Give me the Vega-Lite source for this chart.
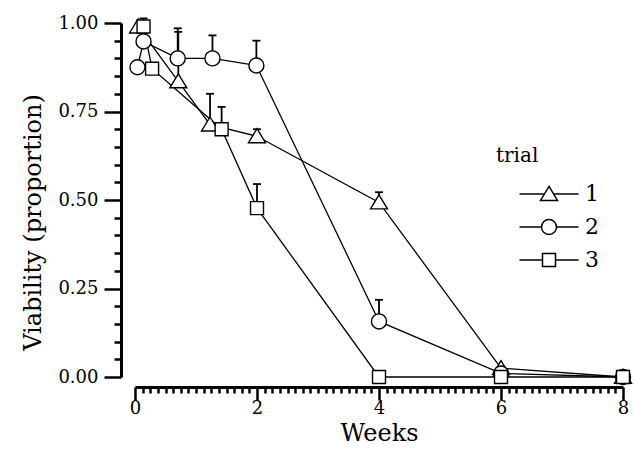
{
  "$schema": "https://vega.github.io/schema/vega-lite/v6.json",
  "width": 488,
  "height": 354,
  "autosize": {"type": "none"},
  "padding": {"left": 135, "top": 23, "right": 11, "bottom": 95},
  "background": "white",
  "config": {"view": {"stroke": null}, "font": "DejaVu Serif"},
  "data": {
    "values": [
      {"trial": "1", "w": 0.05, "v": 0.99},
      {"trial": "1", "w": 0.71, "v": 0.835, "upper": 0.975},
      {"trial": "1", "w": 1.23, "v": 0.713, "upper": 0.8},
      {"trial": "1", "w": 2.0, "v": 0.68, "upper": 0.7},
      {"trial": "1", "w": 4.0, "v": 0.493, "upper": 0.522},
      {"trial": "1", "w": 6.0, "v": 0.025},
      {"trial": "1", "w": 8.0, "v": 0.0},
      {"trial": "2", "w": 0.04, "v": 0.875},
      {"trial": "2", "w": 0.14, "v": 0.948},
      {"trial": "2", "w": 0.7, "v": 0.9, "upper": 0.985},
      {"trial": "2", "w": 1.27, "v": 0.9, "upper": 0.965},
      {"trial": "2", "w": 1.99, "v": 0.88, "upper": 0.95},
      {"trial": "2", "w": 4.0, "v": 0.157, "upper": 0.218},
      {"trial": "2", "w": 6.0, "v": 0.01},
      {"trial": "2", "w": 8.0, "v": 0.0},
      {"trial": "3", "w": 0.14, "v": 0.99, "upper": 1.013},
      {"trial": "3", "w": 0.28, "v": 0.871},
      {"trial": "3", "w": 1.42, "v": 0.7, "upper": 0.763},
      {"trial": "3", "w": 2.0, "v": 0.477, "upper": 0.545},
      {"trial": "3", "w": 4.0, "v": 0.0},
      {"trial": "3", "w": 6.0, "v": 0.0},
      {"trial": "3", "w": 8.0, "v": 0.0}
    ]
  },
  "encoding": {
    "x": {
      "field": "w", "type": "quantitative", "title": "Weeks",
      "scale": {"domain": [0, 8], "nice": false, "zero": false},
      "axis": {
        "values": [0,0.125,0.25,0.375,0.5,0.625,0.75,0.875,1,1.125,1.25,1.375,1.5,1.625,1.75,1.875,2,2.125,2.25,2.375,2.5,2.625,2.75,2.875,3,3.125,3.25,3.375,3.5,3.625,3.75,3.875,4,4.125,4.25,4.375,4.5,4.625,4.75,4.875,5,5.125,5.25,5.375,5.5,5.625,5.75,5.875,6,6.125,6.25,6.375,6.5,6.625,6.75,6.875,7,7.125,7.25,7.375,7.5,7.625,7.75,7.875,8],
        "labelExpr": "datum.value % 2 == 0 ? format(datum.value, 'd') : ''",
        "tickSize": {"condition": {"test": "datum.value % 2 == 0", "value": 13}, "value": 6},
        "offset": 10,
        "grid": false,
        "domainColor": "black", "domainWidth": 3,
        "tickColor": "black", "tickWidth": 2.5,
        "labelColor": "black", "labelFont": "DejaVu Serif", "labelFontSize": 18,
        "labelPadding": -1, "labelFlush": false, "labelOverlap": false, "labelBound": false,
        "titleColor": "black", "titleFont": "DejaVu Serif", "titleFontSize": 24, "titleFontWeight": "normal",
        "titlePadding": 4
      }
    },
    "y": {
      "field": "v", "type": "quantitative", "title": "Viability (proportion)",
      "scale": {"domain": [0, 1], "nice": false},
      "axis": {
        "values": [0,0.05,0.1,0.15,0.2,0.25,0.3,0.35,0.4,0.45,0.5,0.55,0.6,0.65,0.7,0.75,0.8,0.85,0.9,0.95,1],
        "labelExpr": "abs(datum.value*4 - round(datum.value*4)) < 0.000001 ? format(datum.value, '.2f') : ''",
        "tickSize": {"condition": {"test": "abs(datum.value*4 - round(datum.value*4)) < 0.000001", "value": 17}, "value": 7},
        "offset": 14,
        "grid": false,
        "domainColor": "black", "domainWidth": 3,
        "tickColor": "black", "tickWidth": 2.5,
        "labelColor": "black", "labelFont": "DejaVu Serif", "labelFontSize": 18,
        "labelPadding": 6, "labelFlush": false, "labelOverlap": false, "labelBound": false,
        "titleColor": "black", "titleFont": "DejaVu Serif", "titleFontSize": 24, "titleFontWeight": "normal",
        "titlePadding": 12, "titleY": 199
      }
    }
  },
  "resolve": {"scale": {"shape": "independent"}},
  "layer": [
    {
      "mark": {"type": "line", "color": "black", "strokeWidth": 1.3},
      "encoding": {
        "detail": {"field": "trial", "type": "nominal"},
        "order": {"field": "w", "type": "quantitative"}
      }
    },
    {
      "transform": [{"filter": "isValid(datum.upper)"}],
      "mark": {"type": "rule", "color": "black", "strokeWidth": 1.8},
      "encoding": {
        "y": {"field": "v", "type": "quantitative", "title": "Viability (proportion)"},
        "y2": {"field": "upper"}
      }
    },
    {
      "transform": [{"filter": "isValid(datum.upper)"}],
      "mark": {"type": "tick", "orient": "horizontal", "color": "black", "size": 8, "thickness": 1.8, "opacity": 1},
      "encoding": {
        "y": {"field": "upper", "type": "quantitative", "title": "Viability (proportion)"}
      }
    },
    {
      "mark": {"type": "point", "filled": true, "fill": "white", "stroke": "black", "strokeWidth": 1.4, "size": 256, "opacity": 1},
      "encoding": {
        "shape": {
          "field": "trial", "type": "nominal",
          "scale": {
            "domain": ["1", "2", "3"],
            "range": [
              "M0,-0.95L1.06,0.8L-1.06,0.8Z",
              "M0.94,0A0.94,0.94,0,1,1,-0.94,0A0.94,0.94,0,1,1,0.94,0Z",
              "M-0.81,-0.81H0.81V0.81H-0.81Z"
            ]
          },
          "legend": null
        }
      }
    },
    {
      "mark": {"type": "point", "filled": true, "fill": "white", "stroke": "black", "strokeWidth": 1.4, "size": 0, "opacity": 1},
      "encoding": {
        "shape": {
          "field": "trial", "type": "nominal",
          "scale": {
            "domain": ["1", "2", "3"],
            "range": [
              "M2.5,0L7.48,0M9.32,0L14.3,0M8.4,-1.52L10.1,1.28L6.7,1.28Z",
              "M2.5,0L6.9,0M9.9,0L14.3,0M9.9,0A1.5,1.5,0,1,1,6.9,0A1.5,1.5,0,1,1,9.9,0Z",
              "M2.5,0L7.1,0M9.7,0L14.3,0M7.1,-1.3H9.7V1.3H7.1Z"
            ]
          },
          "legend": {
            "title": "trial",
            "orient": "none",
            "legendX": 361,
            "legendY": 123,
            "labelOffset": 67,
            "rowPadding": 11,
            "labelFont": "DejaVu Serif",
            "labelFontSize": 22,
            "labelColor": "black",
            "titleFont": "DejaVu Serif",
            "titleFontSize": 20,
            "titleFontWeight": "normal",
            "titleColor": "black",
            "titlePadding": 17
          }
        }
      }
    }
  ]
}
